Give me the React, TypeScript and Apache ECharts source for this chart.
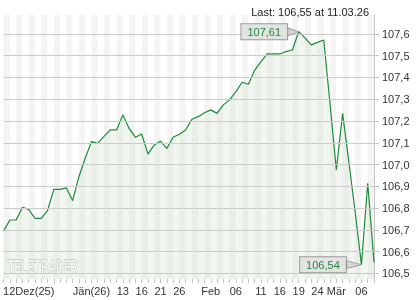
import React, { useEffect, useRef } from 'react';
import * as echarts from 'echarts';

const dates = [
  '10.12.25', '11.12.25', '12.12.25', '15.12.25', '16.12.25', '17.12.25', '18.12.25', '19.12.25', '22.12.25', '23.12.25',
  '29.12.25', '30.12.25', '02.01.26', '05.01.26', '07.01.26', '08.01.26', '09.01.26', '12.01.26', '13.01.26', '14.01.26',
  '15.01.26', '16.01.26', '19.01.26', '20.01.26', '21.01.26', '22.01.26', '23.01.26', '26.01.26', '27.01.26', '28.01.26',
  '29.01.26', '30.01.26', '02.02.26', '03.02.26', '04.02.26', '05.02.26', '06.02.26', '09.02.26', '10.02.26', '11.02.26',
  '12.02.26', '13.02.26', '16.02.26', '17.02.26', '18.02.26', '19.02.26', '20.02.26', '23.02.26', '24.02.26', '25.02.26',
  '26.02.26', '27.02.26', '02.03.26', '03.03.26', '04.03.26', '05.03.26', '06.03.26', '09.03.26', '10.03.26', '11.03.26',
];

const values = [
  106.694, 106.745, 106.745, 106.803, 106.794, 106.753, 106.753, 106.788, 106.886, 106.886,
  106.893, 106.834, 106.944, 107.029, 107.105, 107.097, 107.129, 107.159, 107.159, 107.228,
  107.166, 107.125, 107.14, 107.048, 107.09, 107.108, 107.074, 107.125, 107.139, 107.159,
  107.208, 107.22, 107.238, 107.251, 107.235, 107.274, 107.297, 107.335, 107.378, 107.369,
  107.434, 107.473, 107.508, 107.508, 107.508, 107.519, 107.526, 107.61, 107.582, 107.55,
  107.561, 107.572, 107.278, 106.975, 107.235, 107.011, 106.782, 106.54, 106.914, 106.55,
];

const tickLabels = [
  '', '', '', '', '12Dez(25)', '', '', '', '', '',
  '', '', '', '', 'Jän(26)', '', '', '', '', '13',
  '', '', '16', '', '', '21', '', '', '26', '',
  '', '', '', 'Feb', '', '', '', '06', '', '',
  '', '11', '', '', '16', '', '', '19', '', '',
  '24', '', '', 'Mär', '', '', '', '06', '', '',
];

const yTicks = [106.5, 106.6, 106.7, 106.8, 106.9, 107.0, 107.1, 107.2, 107.3, 107.4, 107.5, 107.6];

const fmt = (v: number, d: number) => Number(v).toFixed(d).replace('.', ',');

export default function App() {
  const ref = useRef<HTMLDivElement>(null);
  useEffect(() => {
    const chart = echarts.init(ref.current!, null, { renderer: 'svg' });
    const last = values.length - 1;
    chart.setOption({
      animation: false,
      textStyle: { fontFamily: 'Arial, "Liberation Sans", sans-serif' },
      title: {
        text: `Last: ${fmt(values[last], 2)} at ${dates[last]}`,
        right: 46,
        top: 1,
        textStyle: { fontSize: 11, fontWeight: 'normal', color: '#222', fontFamily: 'Arial, "Liberation Sans", sans-serif' },
      },
      grid: { left: 3.3, right: 46, top: 15, bottom: 21, containLabel: false },
      graphic: [
        {
          type: 'text',
          x: 8,
          y: 258,
          scaleX: 0.58,
          z: 2,
          style: {
            text: 'TELETRADER',
            font: 'bold 18px Arial',
            fill: '#ffffff',
            stroke: '#a0a0a0',
            lineWidth: 1,
          },
        },
      ],
      xAxis: {
        type: 'category',
        data: dates,
        boundaryGap: false,
        z: 0,
        axisLine: { show: false },
        axisTick: { show: true, interval: 0, length: 4, lineStyle: { color: '#c4c4c4' } },
        axisLabel: {
          interval: (i: number) => tickLabels[i] !== '',
          formatter: (_v: string, i: number) => tickLabels[i],
          color: '#333',
          fontSize: 11,
          margin: 6,
          hideOverlap: false,
        },
        splitLine: { show: false },
        splitArea: { show: true, interval: 0, areaStyle: { color: ['#f4f4f4', '#ffffff'] } },
      },
      yAxis: {
        type: 'value',
        position: 'right',
        min: 106.474,
        max: 107.687,
        z: 1,
        axisLine: { show: true, lineStyle: { color: '#c4c4c4' } },
        axisTick: { show: true, customValues: yTicks, length: 5, lineStyle: { color: '#c4c4c4' } },
        axisLabel: {
          customValues: yTicks,
          formatter: (v: number) => fmt(v, 1),
          color: '#333',
          fontSize: 11,
          margin: 8,
        },
        splitLine: { show: false },
      },
      series: [
        {
          type: 'line',
          name: 'grid',
          z: 1,
          data: values,
          symbol: 'none',
          silent: true,
          lineStyle: { opacity: 0 },
          markLine: {
            silent: true,
            symbol: 'none',
            label: { show: false },
            lineStyle: { color: '#cccccc', type: 'solid', width: 1, opacity: 1 },
            emphasis: { disabled: true },
            data: yTicks.map((v) => ({ yAxis: v })),
          },
        },
        {
          type: 'line',
          z: 3,
          data: values,
          symbol: 'none',
          lineStyle: { color: '#1f8a3a', width: 1.2 },
          itemStyle: { color: '#1f8a3a' },
          areaStyle: { color: 'rgba(214,228,212,0.46)' },
          markPoint: {
            symbol: 'path://M0,0L12,4L0,8Z',
            itemStyle: { color: '#d4d4d4', borderColor: '#9a9a9a', borderWidth: 1 },
            label: {
              show: true,
              position: 'left',
              distance: 0,
              formatter: (p: any) => fmt(p.value, 2),
              backgroundColor: '#e3e3e3',
              borderColor: '#9a9a9a',
              borderWidth: 1,
              padding: [2, 6, 1, 6],
              color: '#1f8a3a',
              fontSize: 11,
              lineHeight: 12,
            },
            data: [
              { type: 'max', symbolSize: [11, 8], symbolOffset: [-5.5, 0] },
              { type: 'min', symbolSize: [15, 8], symbolOffset: [-7.5, 0] },
            ],
          },
        },
      ],
    });
    return () => chart.dispose();
  }, []);
  return <div ref={ref} style={{ position: 'fixed', left: 0, top: 0, width: 420, height: 300 }} />;
}
